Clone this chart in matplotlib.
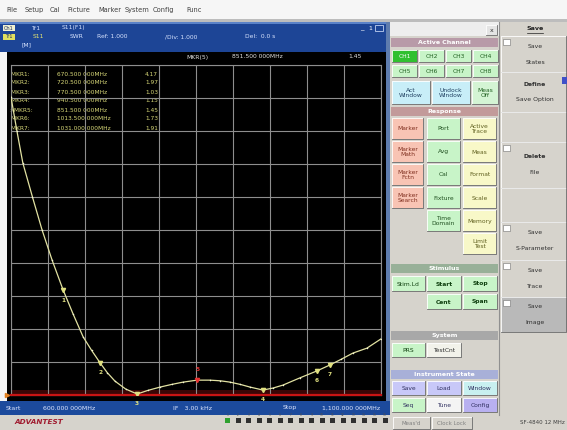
import matplotlib
matplotlib.use('Agg')
import numpy as np
import matplotlib.pyplot as plt
from matplotlib.patches import Rectangle

# S11 SWR trace
freq_mhz = [600, 608, 616, 629, 642, 655.5, 670.5, 684, 697.5, 709, 720.5, 730, 740.5,
            755, 770.5, 785, 801.5, 817, 832.5, 851.5, 869, 883, 896, 910, 923, 940.5,
            954, 967.5, 990.5, 1013.5, 1031, 1046, 1062, 1081, 1100]
swr = [10.03, 9.0, 8.03, 7.0, 6.0, 5.09, 4.18, 3.45, 2.76, 2.35, 1.97, 1.68, 1.42,
       1.18, 1.03, 1.14, 1.24, 1.32, 1.39, 1.45, 1.45, 1.43, 1.39, 1.32, 1.24, 1.15,
       1.21, 1.30, 1.52, 1.73, 1.91, 2.08, 2.27, 2.42, 2.70]

# markers
mkr_freq = [670.5, 720.5, 770.5, 940.5, 851.5, 1013.5, 1031.0]
mkr_swr = [4.17, 1.97, 1.03, 1.15, 1.45, 1.73, 1.91]
active_mkr = 5

f_start, f_stop = 600, 1100
ref_val, per_div = 1.0, 1.0

menu_items = ['File', 'Setup', 'Cal', 'Picture', 'Marker', 'System', 'Config', 'Func']
menu_x = [6, 25, 50, 67, 98, 125, 153, 186]

W, H = 567, 430
fig = plt.figure(figsize=(W / 100, H / 100), dpi=100)
bg = fig.add_axes([0, 0, 1, 1])
bg.set_xlim(0, W)
bg.set_ylim(H, 0)
bg.axis('off')


def rect(x0, y0, x1, y1, color, z=1, ec='none', lw=0):
    bg.add_patch(Rectangle((x0, y0), x1 - x0, y1 - y0, facecolor=color,
                           edgecolor=ec, linewidth=lw, zorder=z))


def bevel(x0, y0, x1, y1):
    bg.plot([x0, x0, x1], [y1, y0, y0], color='white', lw=0.6, zorder=3)
    bg.plot([x0, x1, x1], [y1, y1, y0], color='#6a6a6a', lw=0.6, zorder=3)


def button(x0, y0, x1, y1, fill, label, tc='#303030', bold=False, fs=4.3):
    rect(x0, y0, x1, y1, fill, z=2)
    bevel(x0, y0, x1, y1)
    if label:
        bg.text((x0 + x1) / 2, (y0 + y1) / 2 + 0.5, label, ha='center', va='center',
                fontsize=fs, color=tc, fontweight='bold' if bold else 'normal',
                linespacing=1.0, zorder=4)


def header(y0, y1, fill, label):
    rect(391, y0, 498, y1, fill, z=2)
    bg.text(444.5, (y0 + y1) / 2 + 0.5, label, ha='center', va='center',
            fontsize=4.5, color='white', fontweight='bold', zorder=4)


# ---- window background ----
rect(0, 0, W, H, '#d6d3cc', z=0)
rect(0, 0, W, 19, '#f6f6f6')
rect(0, 19, W, 22, '#bdbdbd')
for name, x in zip(menu_items, menu_x):
    bg.text(x, 10, name, fontsize=4.8, color='#404040', va='center')

# ---- measurement window ----
rect(0, 22, 390, 52, '#1d4596')
rect(0, 22, 390, 24, '#5a82c8')
rect(0, 52, 7, 402, '#f4f4f4')
rect(7, 52, 386, 402, 'black')
rect(386, 22, 390, 415, '#5e7cae')
rect(0, 401, 390, 415, '#1c4a9c')

# header texts
rect(3, 25, 15, 31, '#f0f0d0', z=2)
bg.text(9, 28, 'Ch1', fontsize=3.6, ha='center', va='center', color='#203060', zorder=4)
bg.text(31, 28, 'Tr1', fontsize=4.3, va='center', color='#d8e4ff')
bg.text(62, 28, 'S11(F1)', fontsize=4.3, va='center', color='#d8e4ff')
rect(3, 34, 15, 40, '#e0e060', z=2)
bg.text(9, 37, 'Tr1', fontsize=3.6, ha='center', va='center', color='#203060', zorder=4)
bg.text(33, 37, 'S11', fontsize=4.3, va='center', color='#e8e870')
bg.text(70, 37, 'SWR', fontsize=4.3, va='center', color='#d8e4ff')
bg.text(97, 37, 'Ref: %.3f' % ref_val, fontsize=4.3, va='center', color='#d8e4ff')
bg.text(165, 37, '/Div: %.3f' % per_div, fontsize=4.3, va='center', color='#d8e4ff')
bg.text(245, 37, 'Del:  0.0 s', fontsize=4.3, va='center', color='#d8e4ff')
bg.text(22, 45, '[M]', fontsize=4.3, va='center', color='#d8e4ff')
bg.text(360, 28, '_', fontsize=5, va='center', color='white')
bg.text(368, 28, '1', fontsize=4.5, va='center', color='white')
rect(375, 25, 383, 31, 'none', z=3, ec='#c0d0f0', lw=0.6)

# active marker readout
i_act = active_mkr - 1
bg.text(186, 57, 'MKR(%d)' % active_mkr, fontsize=4.3, va='center', color='#e0e0e0')
bg.text(232, 57, '%.3f 000MHz' % mkr_freq[i_act], fontsize=4.3, va='center', color='#e0e0e0')
bg.text(362, 57, '%.2f' % mkr_swr[i_act], fontsize=4.3, va='center', ha='right', color='#e0e0e0')

# ---- trace area ----
ax = fig.add_axes([11 / W, 1 - 395 / H, 370 / W, 330 / H])
ax.set_facecolor('none')
ax.set_xlim(f_start, f_stop)
ax.set_ylim(ref_val, ref_val + 10 * per_div)
ax.set_xticks(np.linspace(f_start, f_stop, 11))
ax.set_yticks(np.arange(ref_val, ref_val + 10.5 * per_div, per_div))
ax.grid(True, color='#8e8e8e', lw=0.8)
ax.tick_params(length=0, labelbottom=False, labelleft=False)
for s in ax.spines.values():
    s.set_color('#8e8e8e')
    s.set_linewidth(0.8)

ax.axhspan(ref_val, ref_val + 0.15, color='#3a0606', lw=0)
ax.axhline(ref_val, color='#c81414', lw=1.6, clip_on=False, zorder=3)
ax.plot([f_start - 6], [ref_val], marker='>', ms=3, color='#e08020', clip_on=False)

ax.plot(freq_mhz, swr, color='#e2e2a2', lw=0.9, zorder=4)
ax.plot(freq_mhz, swr, 'o', ms=1.1, color='#f6f6d6', mec='none', zorder=5)

for n, (f, s) in enumerate(zip(mkr_freq, mkr_swr), start=1):
    if n == active_mkr:
        c, dy = '#e83030', 8
    else:
        c, dy = '#e0e080', -7
    ax.plot(f, s, marker='v', ms=3, color=c, zorder=6)
    ax.annotate(str(n), (f, s), xytext=(0, dy), textcoords='offset points', ha='center',
                va='center', fontsize=4.2, color=c, fontweight='bold', zorder=6)

# marker table
for n, (f, s) in enumerate(zip(mkr_freq, mkr_swr), start=1):
    y = 74 + 9 * (n - 1)
    pre = '>' if n == active_mkr else ' '
    bg.text(9, y, pre + 'MKR%d:' % n, fontsize=4.2, va='center', color='#d8d878', zorder=5)
    bg.text(57, y, '%.3f 000MHz' % f, fontsize=4.2, va='center', color='#d8d878', zorder=5)
    bg.text(158, y, '%.2f' % s, fontsize=4.2, va='center', ha='right', color='#d8d878', zorder=5)

# status bar
bg.text(6, 408, 'Start', fontsize=4.5, va='center', color='#dde6ff')
bg.text(43, 408, '%.3f 000MHz' % f_start, fontsize=4.5, va='center', color='#dde6ff')
bg.text(173, 408, 'IF   3.00 kHz', fontsize=4.5, va='center', color='#dde6ff')
bg.text(283, 408, 'Stop', fontsize=4.5, va='center', color='#dde6ff')
bg.text(380, 408, '%s.000 000MHz' % format(f_stop, ','), fontsize=4.5, va='center',
        ha='right', color='#dde6ff')

# ---- right control panel ----
rect(390, 22, 499, 36, '#eeeeee', z=1)
button(486, 25, 497, 35, '#e4e4e4', 'x', fs=4.5)
header(38, 47, '#b89aa8', 'Active Channel')

ch_cols = [(392, 417), (419, 444), (446, 471), (473, 498)]
for r, (y0, y1) in enumerate([(50, 62), (65, 77)]):
    for c, (x0, x1) in enumerate(ch_cols):
        k = r * 4 + c + 1
        if k == 1:
            button(x0, y0, x1, y1, '#30c030', 'CH%d' % k, tc='white')
        else:
            button(x0, y0, x1, y1, '#c8f4c8', 'CH%d' % k, tc='#206020')
button(392, 81, 430, 104, '#c8eef8', 'Act\nWindow', tc='#204060')
button(432, 81, 470, 104, '#c8eef8', 'Undock\nWindow', tc='#204060')
button(472, 81, 498, 104, '#d4f4d4', 'Meas\nOff', tc='#206020')

header(107, 116, '#c29a9a', 'Response')
resp_cols = [(392, 423, '#f8c4b4', '#803020'), (427, 460, '#c8f4c8', '#205020'),
             (463, 496, '#f8f8c8', '#606020')]
resp_labels = [['Marker', 'Port', 'Active\nTrace'],
               ['Marker\nMath', 'Avg', 'Meas'],
               ['Marker\nFctn', 'Cal', 'Format'],
               ['Marker\nSearch', 'Fixture', 'Scale'],
               [None, 'Time\nDomain', 'Memory'],
               [None, None, 'Limit\nTest']]
for r, row in enumerate(resp_labels):
    y0 = 118 + 23 * r
    for (x0, x1, fc, tc), lab in zip(resp_cols, row):
        if lab:
            button(x0, y0, x1, y0 + 21, fc, lab, tc=tc)

header(264, 273, '#98b098', 'Stimulus')
st_cols = [(392, 425), (427, 461), (463, 497)]
stim_labels = [['Stim.Ld', 'Start', 'Stop'], [None, 'Cent', 'Span']]
for r, row in enumerate(stim_labels):
    y0 = 276 + 18 * r
    for (x0, x1), lab in zip(st_cols, row):
        if lab:
            button(x0, y0, x1, y0 + 15, '#c8f4c8', lab, tc='#104010', bold=(lab != 'Stim.Ld'))

header(331, 340, '#a8a8a8', 'System')
button(392, 343, 425, 357, '#c8f4c8', 'PRS', tc='#104010')
button(427, 343, 461, 357, '#f2f2ea', 'TestCnt', tc='#303030')

header(370, 379, '#a8b0d8', 'Instrument State')
inst_labels = [[('Save', '#c8c8f8'), ('Load', '#c8c8f8'), ('Window', '#c8f0f0')],
               [('Seq', '#c8f4c8'), ('Tune', '#f4f4f4'), ('Config', '#b8b0f0')]]
for r, row in enumerate(inst_labels):
    y0 = 381 + 17 * r
    for (x0, x1), (lab, fc) in zip(st_cols, row):
        button(x0, y0, x1, y0 + 14, fc, lab, tc='#303060')

bg.plot([499, 499], [22, 415], color='#909090', lw=0.8)

# ---- softkey column ----
bg.text(535, 29, 'Save', fontsize=4.6, ha='center', va='center', color='#202020',
        fontweight='bold')
bg.plot([527, 543], [32.5, 32.5], color='#202020', lw=0.5)
softkeys = [(36, 72, 'Save', 'States', True, False),
            (72, 112, 'Define', 'Save Option', False, True),
            (112, 142, None, None, False, False),
            (142, 188, 'Delete', 'File', True, True),
            (188, 222, None, None, False, False),
            (222, 260, 'Save', 'S-Parameter', True, False),
            (260, 297, 'Save', 'Trace', True, False),
            (297, 332, 'Save', 'Image', True, False)]
for y0, y1, t1, t2, chk, bold in softkeys:
    fc = '#b9b9b9' if t2 == 'Image' else '#d6d3cc'
    rect(501, y0, 567, y1, fc, z=1)
    bevel(501, y0, 566, y1)
    if chk:
        rect(503, y0 + 3, 510, y0 + 9, 'white', z=3, ec='#707070', lw=0.4)
    if t1:
        yy = (y0 + y1) / 2
        bg.text(535, yy - 8, t1, fontsize=4.4, ha='center', va='center', color='#303030',
                fontweight='bold' if bold else 'normal')
        bg.text(535, yy + 8, t2, fontsize=4.4, ha='center', va='center', color='#303030')
rect(562, 77, 567, 84, '#4050c8', z=3)

# ---- bottom strip ----
bg.text(14, 422, 'ADVANTEST', fontsize=5.2, va='center', color='#a01c30',
        fontweight='bold', style='italic')
for k in range(16):
    x = 225 + k * 10.5
    bg.text(x + 2.5, 414.5, str(k + 1), fontsize=2.2, ha='center', va='center', color='#505050')
    rect(x, 418, x + 5, 423, '#2ea02e' if k == 0 else '#303030', z=2)
button(393, 417, 430, 429, '#d6d3cc', "Meas'd", tc='#808080', fs=4)
button(432, 417, 472, 429, '#d6d3cc', 'Clock Lock', tc='#808080', fs=4)
bg.text(565, 423, 'SF-4840 12 MHz', fontsize=4, ha='right', va='center', color='#404040')

fig.savefig('out.png', dpi=100)
